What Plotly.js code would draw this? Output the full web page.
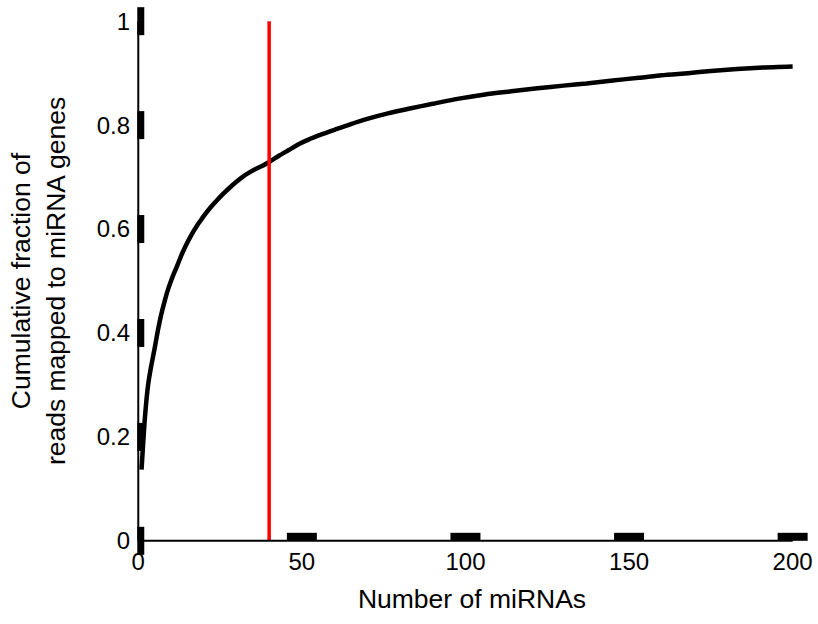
<!DOCTYPE html>
<html>
<head>
<meta charset="utf-8">
<script src="https://cdn.plot.ly/plotly-3.0.1.min.js"></script>
<style>html,body{margin:0;padding:0;background:#fff;}#chart{width:818px;height:624px;}</style>
</head>
<body>
<div id="chart"></div>
<script>
// Number of miRNAs (x) and cumulative fraction of reads (y)
var nMirna = [1, 2, 3, 4, 5, 6, 7, 8, 9, 10, 11, 12, 13, 14, 15, 16, 17, 18, 19, 20, 22, 24, 26, 28, 30, 32, 34, 36, 38, 40, 43, 46, 49, 52, 56, 60, 65, 70, 76, 83, 90, 98, 106, 114, 122, 130, 137, 145, 153, 160, 168, 175, 183, 191, 200];
var cumFraction = [0.137, 0.235, 0.30, 0.338, 0.37, 0.405, 0.435, 0.46, 0.482, 0.50, 0.516, 0.531, 0.547, 0.561, 0.574, 0.586, 0.597, 0.607, 0.616, 0.625, 0.641, 0.655, 0.668, 0.68, 0.691, 0.701, 0.709, 0.716, 0.722, 0.729, 0.741, 0.752, 0.763, 0.772, 0.782, 0.791, 0.802, 0.812, 0.822, 0.832, 0.841, 0.851, 0.859, 0.865, 0.871, 0.876, 0.880, 0.886, 0.891, 0.896, 0.900, 0.904, 0.908, 0.911, 0.913];

// Cut-off marker (red vertical line)
var cutoffX = [40, 40];
var cutoffY = [0, 1];

// Axis ticks
var xTickVals = [0, 50, 100, 150, 200];
var xTickText = ['0', '50', '100', '150', '200'];
var xBarTicks = [50, 100, 150, 200];
var yTickVals = [0, 0.2, 0.4, 0.6, 0.8, 1];
var yTickText = ['0', '0.2', '0.4', '0.6', '0.8', '1'];

var FONT = 'Liberation Sans, Arial, Helvetica, sans-serif';

var traces = [
  {
    x: nMirna, y: cumFraction, type: 'scatter', mode: 'lines',
    line: {color: '#000000', width: 4.5, shape: 'spline', smoothing: 0.6}, hoverinfo: 'skip', showlegend: false
  },
  {
    x: cutoffX, y: cutoffY, type: 'scatter', mode: 'lines',
    line: {color: '#ff0000', width: 3.5}, hoverinfo: 'skip', showlegend: false
  }
];

var shapes = [];
// axis lines
shapes.push({type: 'line', xref: 'x', yref: 'y', x0: xTickVals[0], x1: xTickVals[xTickVals.length - 1], y0: 0, y1: 0,
  line: {color: '#000', width: 2}});
shapes.push({type: 'line', xref: 'x', yref: 'y', x0: 0, x1: 0, y0: yTickVals[0], y1: yTickVals[yTickVals.length - 1],
  line: {color: '#000', width: 2}});
// thick bar ticks on x axis
xBarTicks.forEach(function (v) {
  shapes.push({type: 'rect', xref: 'x', yref: 'y', xsizemode: 'pixel', xanchor: v, x0: -15, x1: 15,
    ysizemode: 'pixel', yanchor: 0, y0: 0, y1: 8, fillcolor: '#000', line: {width: 0}});
});
// thick bar ticks on y axis
yTickVals.forEach(function (v) {
  shapes.push({type: 'rect', xref: 'x', yref: 'y', xsizemode: 'pixel', xanchor: 0, x0: -1, x1: 6,
    ysizemode: 'pixel', yanchor: v, y0: -14, y1: 14, fillcolor: '#000', line: {width: 0}});
});

var layout = {
  width: 818, height: 624,
  margin: {l: 134.7, r: 8.6, t: 2.8, b: 64.8},
  paper_bgcolor: '#ffffff', plot_bgcolor: '#ffffff',
  font: {family: FONT, color: '#000', size: 24},
  showlegend: false,
  xaxis: {
    range: [-1, 205], showgrid: false, zeroline: false, showline: false, ticks: '',
    tickmode: 'array', tickvals: xTickVals, ticktext: xTickText,
    tickfont: {family: FONT, size: 24, color: '#000'}, ticklabelstandoff: -14,
    title: {text: 'Number of miRNAs', font: {family: FONT, size: 26.5, color: '#000'}, standoff: 15},
    automargin: false, fixedrange: true
  },
  yaxis: {
    range: [-0.035, 1.035], showgrid: false, zeroline: false, showline: false, ticks: '',
    tickmode: 'array', tickvals: yTickVals, ticktext: yTickText,
    tickfont: {family: FONT, size: 24, color: '#000'}, ticklabelstandoff: 4,
    title: {text: 'Cumulative fraction of<br>reads mapped to miRNA genes', font: {family: FONT, size: 26.5, color: '#000'}, standoff: 23},
    automargin: false, fixedrange: true
  },
  shapes: shapes
};

Plotly.newPlot('chart', traces, layout, {displayModeBar: false, staticPlot: true});
</script>
</body>
</html>
